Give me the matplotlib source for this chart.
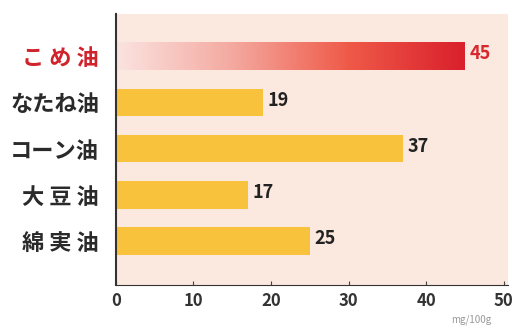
import numpy as np
import matplotlib.pyplot as plt
from matplotlib.colors import LinearSegmentedColormap

plt.rcParams['font.family'] = ['Noto Sans CJK JP', 'DejaVu Sans']

# data
oils = ["こ め 油", "なたね油", "コーン油", "大 豆 油", "綿 実 油"]
values = [45, 19, 37, 17, 25]
xticks = [0, 10, 20, 30, 40, 50]
unit = "mg/100g"

fig = plt.figure(figsize=(5.15, 3.29), dpi=100)
ax = fig.add_axes([0.225, 0.134, 0.762, 0.823])
ax.set_facecolor('#fbe8df')

pos = np.arange(len(oils))
h = 0.6
colors = ['none'] + ['#f9c23c'] * (len(oils) - 1)
bars = ax.barh(pos, values, height=h, color=colors)

# gradient for the first bar
cmap = LinearSegmentedColormap.from_list('g', ['#fbe3e0', '#f4a9a0', '#ef5a48', '#d9202c'])
grad = np.linspace(0, 1, 256).reshape(1, -1)
im = ax.imshow(grad, cmap=cmap, aspect='auto',
               extent=[0, values[0], pos[0] + h / 2, pos[0] - h / 2], zorder=2)
im.set_clip_path(bars[0])

ax.set_xlim(0, 50.6)
ax.set_ylim(4.95, -0.91)

for i, v in enumerate(values):
    ax.text(v + 0.6, i - 0.05, str(v), va='center', ha='left', fontsize=13,
            fontweight='bold', color='#d8282e' if i == 0 else '#222222')

ax.set_yticks(pos)
ax.set_yticklabels(oils, fontsize=16, fontweight='bold')
ax.get_yticklabels()[0].set_color('#d0232b')
for t in ax.get_yticklabels()[1:]:
    t.set_color('#2a2a2a')
ax.tick_params(axis='y', length=0, pad=12)

ax.set_xticks(xticks)
ax.set_xticklabels([str(x) for x in xticks], fontsize=12, fontweight='bold', color='#333333')
ax.tick_params(axis='x', direction='in', length=3, color='#444444', pad=5)

for s in ['top', 'right']:
    ax.spines[s].set_visible(False)
ax.spines['left'].set_color('#333333')
ax.spines['bottom'].set_color('#333333')
ax.spines['left'].set_linewidth(1.5)

fig.text(0.955, 0.02, unit, fontsize=7, color='#999999', ha='right')

fig.savefig('out.png', dpi=100)
